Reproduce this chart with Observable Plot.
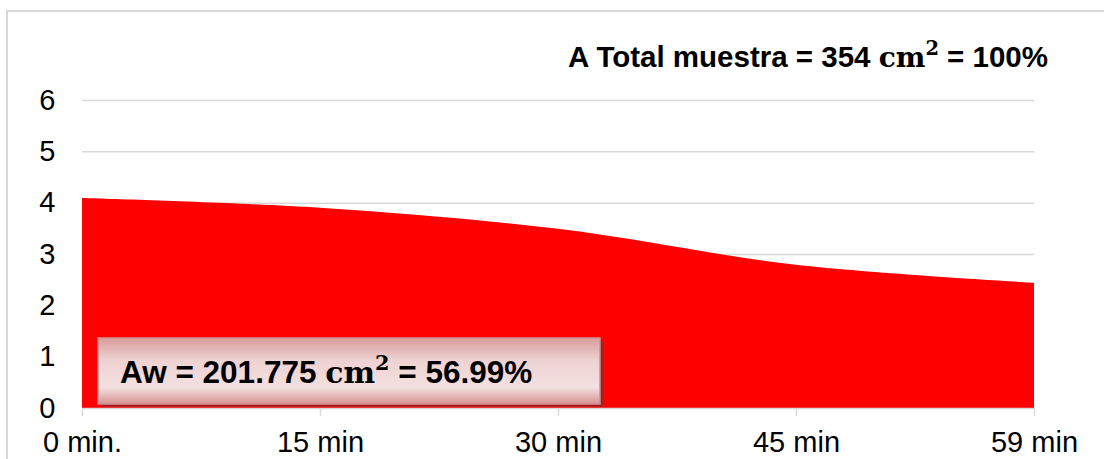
<!DOCTYPE html>
<html>
<head>
<meta charset="utf-8">
<script src="https://cdn.jsdelivr.net/npm/d3@7"></script>
<script src="https://cdn.jsdelivr.net/npm/@observablehq/plot@0.6"></script>
<style>
  html, body { margin: 0; padding: 0; background: #ffffff; }
  #chart svg { display: block; }
  #chart g[aria-label="x-axis tick"] path { stroke: #d9d9d9; stroke-width: 1.5; }
</style>
</head>
<body>
<div id="chart"></div>
<script>
// Sampling times and measured values
const times = ["0 min.", "15 min", "30 min", "45 min", "59 min"];
const values = [4.09, 3.9, 3.49, 2.79, 2.44];
const yTicks = [0, 1, 2, 3, 4, 5, 6];
const gridTicks = [1, 2, 3, 4, 5, 6];

// Annotation texts
const totalLabel = { pre: "A Total muestra = 354 ", unit: "cm", exp: "2", post: " = 100%" };
const awLabel = { pre: "Aw = 201.775 ", unit: "cm", exp: "2", post: " = 56.99%" };

const data = times.map((t, i) => ({ t, v: values[i] }));

const W = 1104, H = 459;
const chart = Plot.plot({
  width: W,
  height: H,
  marginLeft: 82,
  marginRight: 70,
  marginTop: 100,
  marginBottom: 51,
  style: { fontFamily: "'Liberation Sans', Arial, sans-serif", fontSize: "29px", color: "#000", background: "#fff" },
  x: { type: "point", domain: times, padding: 0 },
  y: { domain: [0, 6] },
  marks: [
    Plot.gridY(gridTicks, { stroke: "#d9d9d9", strokeOpacity: 1, strokeWidth: 1.5 }),
    Plot.areaY(data, { x: "t", y: "v", fill: "#ff0000", curve: "cardinal", tension: 0 }),
    Plot.ruleY([0], { stroke: "#d9d9d9", strokeWidth: 1.5 }),
    Plot.axisX({ tickSize: 8, tickPadding: 15, label: null, fill: "#000", fontSize: 29 }),
    Plot.axisY({ ticks: yTicks, tickFormat: "d", tickSize: 0, tickPadding: 27, label: null, fill: "#000", fontSize: 29 })
  ]
});

document.getElementById("chart").appendChild(chart);

const svg = d3.select(chart);

// Outer chart border
svg.append("rect")
  .attr("x", 7).attr("y", 11)
  .attr("width", 1300).attr("height", 700)
  .attr("fill", "none")
  .attr("stroke", "#d9d9d9")
  .attr("stroke-width", 2);

// Rich text helper: sans-serif bold text with a serif unit and superscript
function richText(g, label, x, y, size, anchor) {
  const t = g.append("text")
    .attr("x", x).attr("y", y)
    .attr("text-anchor", anchor)
    .attr("font-family", "'Liberation Sans', Arial, sans-serif")
    .attr("font-weight", "bold")
    .attr("font-size", size)
    .attr("fill", "#000");
  t.append("tspan").text(label.pre);
  t.append("tspan")
    .attr("font-family", "'DejaVu Serif', 'Liberation Serif', serif")
    .attr("font-weight", "bold")
    .attr("font-size", size * 0.95)
    .text(label.unit);
  t.append("tspan")
    .attr("font-family", "'DejaVu Serif', 'Liberation Serif', serif")
    .attr("font-weight", "bold")
    .attr("font-size", size * 0.66)
    .attr("dy", -size * 0.42)
    .text(label.exp);
  t.append("tspan")
    .attr("dy", size * 0.42)
    .text(label.post);
  return t;
}

// Title annotation
richText(svg, totalLabel, 1048, 67, 29.5, "end");

// Boxed annotation with gradient fill and drop shadow
const defs = svg.append("defs");
const grad = defs.append("linearGradient")
  .attr("id", "awGrad")
  .attr("x1", "0").attr("y1", "0").attr("x2", "0").attr("y2", "1");
grad.append("stop").attr("offset", "0%").attr("stop-color", "#d99c9c");
grad.append("stop").attr("offset", "35%").attr("stop-color", "#efd3d3");
grad.append("stop").attr("offset", "75%").attr("stop-color", "#f3e0e0");
grad.append("stop").attr("offset", "100%").attr("stop-color", "#d69292");

const box = svg.append("g");
box.append("rect")
  .attr("x", 101).attr("y", 341)
  .attr("width", 502).attr("height", 66)
  .attr("fill", "#a81c1c");
box.append("rect")
  .attr("x", 98).attr("y", 338)
  .attr("width", 502).attr("height", 66)
  .attr("fill", "url(#awGrad)")
  .attr("stroke", "#d09090")
  .attr("stroke-width", 1.5);
richText(box, awLabel, 120, 383, 31.5, "start");
</script>
</body>
</html>
